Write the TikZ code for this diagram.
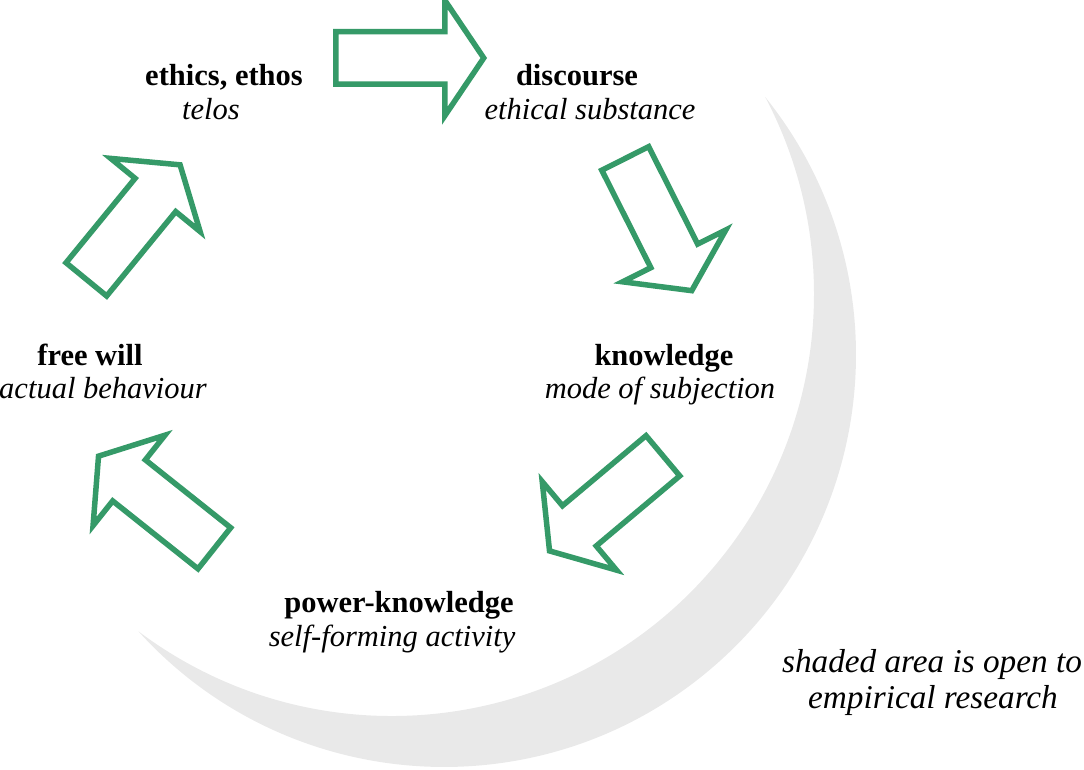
\documentclass[tikz,border=0pt]{standalone}
\usepackage{fontspec}
\setmainfont{Liberation Serif}
\usetikzlibrary{shapes.arrows, positioning}
\definecolor{arrowgreen}{HTML}{359A68}
\definecolor{shadegray}{HTML}{E9E9E9}
\tikzset{
    stage/.style={font=\fontsize{12.2}{14}\selectfont\bfseries, anchor=base, inner sep=0pt},
    aspect/.style={font=\fontsize{12.2}{14}\selectfont\itshape, anchor=base, inner sep=0pt},
    remark/.style={font=\fontsize{13.3}{14.5}\selectfont\itshape, anchor=base, inner sep=0pt},
    flow/.style={single arrow, draw=arrowgreen, line width=2.2pt, fill=white, anchor=tail,
        inner xsep=0pt, inner ysep=9.4pt, text height=0pt, text depth=0pt,
        minimum height=59.2pt, single arrow head extend=12.6pt, single arrow tip angle=112}
}

\begin{document}
\begin{tikzpicture}[x=0.4pt, y=-0.4pt]
        \useasboundingbox (0,0) rectangle (1084,770);

        % shaded crescent
        \coordinate (tipa) at (765.1,96.9);
        \fill[shadegray] (tipa) arc[start angle=-38.79, end angle=137.89, radius=412]
            arc[start angle=126.95, end angle=-27.85, radius=422] -- cycle;

        % Stages of the cycle
        \node[stage] (ethics) at (224,86) {ethics, ethos};
        \node[aspect] (telos) at (211,120) {telos};
        \node[stage] (discourse) at (577,86) {discourse};
        \node[aspect] (substance) at (590,120) {ethical substance};
        \node[stage] (knowledge) at (664,366) {knowledge};
        \node[aspect] (subjection) at (660,399) {mode of subjection};
        \node[stage] (power) at (399,613) {power-knowledge};
        \node[aspect] (activity) at (392,646) {self-forming activity};
        \node[stage] (freewill) at (90,366) {free will};
        \node[aspect] (behaviour) at (103,399) {actual behaviour};

        % Arrows between the stages
        \node[flow] (a1) at (333,58) {};
        \node[flow, rotate=-63.3] (a2) at (624,156) {};
        \node[flow, rotate=220] (a3) at (665,454) {};
        \node[flow, rotate=141.5] (a4) at (216.5,550) {};
        \node[flow, rotate=50.7] (a5) at (84.6,281.5) {};

        % Note on the shaded area
        \node[remark] (note) at (932,672) {shaded area is open to};
        \node[remark] (note2) at (933,708) {empirical research};

    \end{tikzpicture}
\end{document}
